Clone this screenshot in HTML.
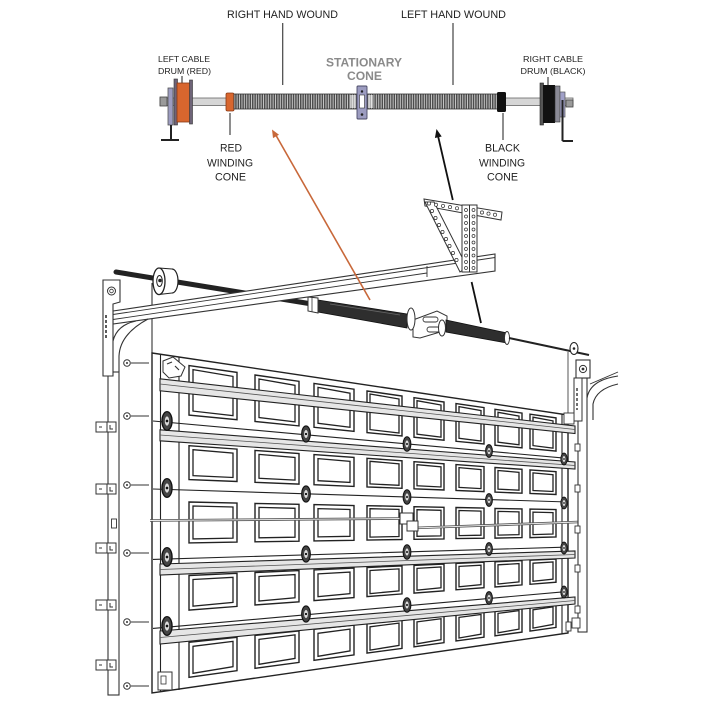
<!DOCTYPE html>
<html><head><meta charset="utf-8"><style>
html,body{margin:0;padding:0;background:#fff;}
svg{display:block;}
text{font-family:"Liberation Sans",Arial,sans-serif;}
</style></head><body>
<svg width="720" height="720" viewBox="0 0 720 720" xmlns="http://www.w3.org/2000/svg">
<defs>
<pattern id="coil" width="2.4" height="30" patternUnits="userSpaceOnUse"><rect width="2.4" height="30" fill="#4c4c4c"/><rect x="1.5" width="0.9" height="30" fill="#cfcfcf"/></pattern>
<g id="hinge"><ellipse rx="4.6" ry="8.5" fill="#444" stroke="#111" stroke-width="1.2"/><ellipse rx="2" ry="4.2" fill="#dcdcdc"/><circle r="1.2" fill="#111"/></g>
</defs>
<rect width="720" height="720" fill="#fff"/>

<g fill="#222" font-size="11">
<text x="282.5" y="18" text-anchor="middle" textLength="111" lengthAdjust="spacingAndGlyphs">RIGHT HAND WOUND</text>
<text x="453.5" y="18" text-anchor="middle" textLength="105" lengthAdjust="spacingAndGlyphs">LEFT HAND WOUND</text>
<text x="184" y="62" font-size="8.6" text-anchor="middle" textLength="52" lengthAdjust="spacingAndGlyphs">LEFT CABLE</text>
<text x="184.5" y="74" font-size="8.6" text-anchor="middle" textLength="53" lengthAdjust="spacingAndGlyphs">DRUM (RED)</text>
<text x="553" y="62" font-size="8.6" text-anchor="middle" textLength="60" lengthAdjust="spacingAndGlyphs">RIGHT CABLE</text>
<text x="553" y="74" font-size="8.6" text-anchor="middle" textLength="65" lengthAdjust="spacingAndGlyphs">DRUM (BLACK)</text>
<text x="364" y="66.5" font-size="11.5" font-weight="bold" fill="#8a8a8a" text-anchor="middle" textLength="76" lengthAdjust="spacingAndGlyphs">STATIONARY</text>
<text x="364.5" y="80" font-size="11.5" font-weight="bold" fill="#8a8a8a" text-anchor="middle" textLength="35" lengthAdjust="spacingAndGlyphs">CONE</text>
<text x="231" y="151.5" text-anchor="middle" textLength="22" lengthAdjust="spacingAndGlyphs">RED</text>
<text x="230" y="166.5" text-anchor="middle" textLength="46" lengthAdjust="spacingAndGlyphs">WINDING</text>
<text x="230.5" y="180.5" text-anchor="middle" textLength="31" lengthAdjust="spacingAndGlyphs">CONE</text>
<text x="502.5" y="151.5" text-anchor="middle" textLength="35" lengthAdjust="spacingAndGlyphs">BLACK</text>
<text x="502" y="166.5" text-anchor="middle" textLength="46" lengthAdjust="spacingAndGlyphs">WINDING</text>
<text x="502.5" y="180.5" text-anchor="middle" textLength="31" lengthAdjust="spacingAndGlyphs">CONE</text>
</g>
<g stroke="#444" stroke-width="1.2">
<line x1="282.7" y1="23" x2="282.7" y2="85"/>
<line x1="453" y1="23" x2="453" y2="85"/>
<line x1="230" y1="113" x2="230" y2="135"/>
<line x1="503" y1="113" x2="503" y2="140"/>
<line x1="182" y1="76" x2="182" y2="92"/>
<line x1="548" y1="77" x2="548" y2="86"/>
</g>
<rect x="160" y="98" width="413" height="7.5" fill="#d6d6d6" stroke="#666" stroke-width="0.8"/>
<rect x="160" y="97" width="7" height="9" fill="#9a9a9a" stroke="#444" stroke-width="0.8"/>
<rect x="168" y="88" width="5" height="37" fill="#9c9cc0" stroke="#555" stroke-width="0.8"/>
<rect x="174" y="79" width="3.5" height="46" fill="#6e6478" stroke="#333" stroke-width="0.6"/>
<rect x="177" y="83" width="13" height="39" fill="#d8662e" stroke="#8a3a16" stroke-width="0.8"/>
<rect x="189.5" y="80" width="3" height="44" fill="#6e6478" stroke="#333" stroke-width="0.6"/>
<path d="M171 125 V140 M161 140 H179" stroke="#222" stroke-width="2" fill="none"/>
<rect x="226" y="93" width="8" height="18" rx="1.5" fill="#d8662e" stroke="#8a3a16" stroke-width="0.8"/>
<rect x="234" y="94" width="266" height="15" fill="url(#coil)" stroke="#333" stroke-width="0.8"/>
<rect x="350" y="95" width="6" height="13" fill="#fff" opacity="0.55"/>
<rect x="368" y="95" width="5" height="13" fill="#fff" opacity="0.55"/>
<rect x="357" y="86" width="10" height="33" rx="1" fill="#9c9cc0" stroke="#4a4a66" stroke-width="0.9"/>
<rect x="359.5" y="95" width="5" height="13" fill="#fff" stroke="#333" stroke-width="0.6"/>
<circle cx="362" cy="91.5" r="1.2" fill="#222"/>
<circle cx="362" cy="114.5" r="1.3" fill="#222"/>
<rect x="497" y="92" width="9" height="20" rx="1.5" fill="#111"/>
<rect x="540" y="83" width="3.5" height="42" fill="#555" stroke="#222" stroke-width="0.6"/>
<rect x="543" y="85" width="12" height="38" fill="#111"/>
<rect x="555" y="86" width="5" height="36" fill="#8a8a96" stroke="#333" stroke-width="0.6"/>
<rect x="560" y="92" width="5" height="25" fill="#a0a0c8" stroke="#555" stroke-width="0.7"/>
<rect x="566" y="100" width="7" height="7" fill="#9a9a9a" stroke="#444" stroke-width="0.8"/>
<path d="M562.5 100 V141 M562.5 141 H573" stroke="#222" stroke-width="2" fill="none"/>

<line x1="152" y1="283" x2="152" y2="353" stroke="#333" stroke-width="1.1"/>
<rect x="108" y="372" width="11" height="323" fill="#fff" stroke="#333" stroke-width="1.1"/>
<rect x="111.5" y="519" width="5" height="9" fill="#fff" stroke="#333" stroke-width="0.9"/>
<g fill="#fff" stroke="#333" stroke-width="1">
<rect x="96" y="422" width="20" height="10"/><rect x="96" y="484" width="20" height="10"/><rect x="96" y="543" width="20" height="10"/><rect x="96" y="600" width="20" height="10"/><rect x="96" y="660" width="20" height="10"/>
</g>
<path d="M107 422v10M99 427h3M110 425v4h3M107 484v10M99 489h3M110 487v4h3M107 543v10M99 548h3M110 546v4h3M107 600v10M99 605h3M110 603v4h3M107 660v10M99 665h3M110 663v4h3" stroke="#333" stroke-width="1" fill="none"/>
<g stroke="#333" stroke-width="1" fill="#fff">
<path d="M131 363H149M131 416H149M131 485H149M131 553H149M131 622H149M131 686H149"/>
<circle cx="127" cy="363" r="3.3"/><circle cx="127" cy="416" r="3.3"/><circle cx="127" cy="485" r="3.3"/><circle cx="127" cy="553" r="3.3"/><circle cx="127" cy="622" r="3.3"/><circle cx="127" cy="686" r="3.3"/>
</g>
<g fill="#333"><circle cx="127" cy="363" r="1"/><circle cx="127" cy="416" r="1"/><circle cx="127" cy="485" r="1"/><circle cx="127" cy="553" r="1"/><circle cx="127" cy="622" r="1"/><circle cx="127" cy="686" r="1"/></g>

<line x1="116" y1="272" x2="318" y2="305" stroke="#222" stroke-width="5" stroke-linecap="round"/>
<ellipse cx="172" cy="281" rx="6" ry="12" fill="#fff" stroke="#222" stroke-width="1.2"/>
<rect x="159" y="268" width="13" height="26" fill="#fff"/>
<path d="M159 268 L172 269 M159 294.5 L172 293" stroke="#222" stroke-width="1.1"/>
<ellipse cx="159" cy="281.3" rx="6" ry="13.3" fill="#fff" stroke="#222" stroke-width="1.3"/>
<ellipse cx="159.5" cy="281" rx="2.8" ry="5.5" fill="#fff" stroke="#222" stroke-width="1"/>
<circle cx="160" cy="280.5" r="1.8" fill="#222"/>

<polygon points="113,311 495,254 495,271 113,324" fill="#fff" stroke="#333" stroke-width="1.1"/>
<path d="M113 314.5 L495 257.5 M113 319.5 L427 273 M427 266 V277" stroke="#333" stroke-width="0.9" fill="none"/>
<path d="M112 376 L112 350 Q112 326 136 321" fill="none" stroke="#333" stroke-width="1.1"/>
<path d="M119 372 L119 356 Q120 334 148 319" fill="none" stroke="#333" stroke-width="1.1"/>
<polygon points="103,280 120,280 120,302 113,304 113,376 103,376" fill="#fff" stroke="#333" stroke-width="1.1"/>
<circle cx="111.5" cy="291" r="4" fill="#fff" stroke="#333" stroke-width="1"/>
<circle cx="111.5" cy="291" r="1.8" fill="#fff" stroke="#333" stroke-width="0.8"/>
<path d="M106 315 V338" stroke="#333" stroke-width="1.6" stroke-dasharray="3,2"/>

<polygon points="318,300 407,314 407,328 318,312" fill="#2e2e2e" stroke="#111" stroke-width="0.8"/>
<path d="M330 304 L400 315" stroke="#666" stroke-width="0.8"/>
<polygon points="308,297 318,298 318,313 308,311" fill="#fff" stroke="#333" stroke-width="1"/>
<path d="M312 297.5 V312" stroke="#333" stroke-width="0.8"/>
<polygon points="413,320 437,311 447,316 447,330 420,338 413,337" fill="#fff" stroke="#333" stroke-width="1"/>
<rect x="423" y="317" width="15" height="5" rx="2.5" fill="#fff" stroke="#333" stroke-width="0.9"/>
<rect x="427" y="327" width="13" height="5" rx="2.5" fill="#fff" stroke="#333" stroke-width="0.9"/>
<ellipse cx="411" cy="319" rx="4" ry="11" fill="#fff" stroke="#333" stroke-width="1"/>
<polygon points="446,320 507,333 507,343 446,332" fill="#2e2e2e" stroke="#111" stroke-width="0.8"/>
<ellipse cx="442" cy="328" rx="3.5" ry="8" fill="#fff" stroke="#333" stroke-width="1"/>
<ellipse cx="507" cy="338" rx="2.5" ry="6.5" fill="#fff" stroke="#333" stroke-width="0.9"/>
<line x1="509" y1="338" x2="589" y2="355" stroke="#222" stroke-width="2"/>
<ellipse cx="574" cy="348.5" rx="4" ry="6" fill="#fff" stroke="#222" stroke-width="1.1"/>
<circle cx="574" cy="348.5" r="1.3" fill="#222"/>

<line x1="452.8" y1="200" x2="437.8" y2="135" stroke="#111" stroke-width="1.8"/>
<line x1="471.6" y1="282" x2="481" y2="323" stroke="#111" stroke-width="1.8"/>
<polygon points="436.5,129 441.7,136.5 434.9,138" fill="#111"/>

<g fill="#fff" stroke="#333" stroke-width="1">
<polygon points="424,199 502,212 501,220 425,206"/>
<polygon points="425,202 434,202 467,267 460,272"/>
<rect x="462" y="205" width="15" height="67"/>
<line x1="469.5" y1="205" x2="469.5" y2="272"/>
</g>
<g fill="#fff" stroke="#333" stroke-width="0.7">
<circle cx="429" cy="203.5" r="1.6"/><circle cx="436" cy="204.7" r="1.6"/><circle cx="443" cy="205.9" r="1.6"/><circle cx="450" cy="207.1" r="1.6"/><circle cx="457" cy="208.3" r="1.6"/><circle cx="482" cy="212.5" r="1.6"/><circle cx="488.5" cy="213.6" r="1.6"/><circle cx="495" cy="214.7" r="1.6"/>
<circle cx="432" cy="211" r="1.6"/><circle cx="435.5" cy="218" r="1.6"/><circle cx="439" cy="225" r="1.6"/><circle cx="442.5" cy="232" r="1.6"/><circle cx="446" cy="239" r="1.6"/><circle cx="449.5" cy="246" r="1.6"/><circle cx="453" cy="253" r="1.6"/><circle cx="456.5" cy="260" r="1.6"/>
<circle cx="466" cy="210" r="1.5"/><circle cx="466" cy="216.5" r="1.5"/><circle cx="466" cy="223" r="1.5"/><circle cx="466" cy="229.5" r="1.5"/><circle cx="466" cy="236" r="1.5"/><circle cx="466" cy="242.5" r="1.5"/><circle cx="466" cy="249" r="1.5"/><circle cx="466" cy="255.5" r="1.5"/><circle cx="466" cy="262" r="1.5"/><circle cx="466" cy="268" r="1.5"/>
<circle cx="473.5" cy="210" r="1.5"/><circle cx="473.5" cy="216.5" r="1.5"/><circle cx="473.5" cy="223" r="1.5"/><circle cx="473.5" cy="229.5" r="1.5"/><circle cx="473.5" cy="236" r="1.5"/><circle cx="473.5" cy="242.5" r="1.5"/><circle cx="473.5" cy="249" r="1.5"/><circle cx="473.5" cy="255.5" r="1.5"/><circle cx="473.5" cy="262" r="1.5"/><circle cx="473.5" cy="268" r="1.5"/>
</g>

<polygon points="152,353 568,415 568,633 152,693" fill="#fff" stroke="#222" stroke-width="1.4"/>
<g stroke="#222" stroke-width="1.1" fill="none">
<line x1="160.5" y1="354.5" x2="160.5" y2="692"/>
<line x1="179" y1="357" x2="179" y2="690"/>
<line x1="562" y1="414" x2="562" y2="634"/>
<line x1="153" y1="421" x2="568" y2="458.4"/>
<line x1="153" y1="489" x2="568" y2="502"/>
<line x1="153" y1="559.4" x2="568" y2="547.1"/>
<line x1="153" y1="628.4" x2="568" y2="591.4"/>
</g>
<g fill="#fff" stroke="#222" stroke-width="1.4">
<polygon points="189,365.6 237,372.4 237,419.7 189,415.1"/>
<polygon points="189,445.7 237,449.1 237,481.5 189,479.6"/>
<polygon points="189,502 237,503 237,542.1 189,542.9"/>
<polygon points="189,575.5 237,573.3 237,606.4 189,610.1"/>
<polygon points="189,642.3 237,637.3 237,670.7 189,677.3"/>
<polygon points="255,375 299,381.3 299,425.9 255,421.5"/>
<polygon points="255,450.4 299,453.5 299,484.1 255,482.3"/>
<polygon points="255,503.4 299,504.3 299,541.2 255,541.8"/>
<polygon points="255,572.5 299,570.6 299,601.8 255,605"/>
<polygon points="255,635.4 299,630.9 299,662.4 255,668.3"/>
<polygon points="314,383.4 354,389.2 354,431.3 314,427.3"/>
<polygon points="314,454.6 354,457.4 354,486.4 314,484.7"/>
<polygon points="314,504.6 354,505.5 354,540.3 314,540.9"/>
<polygon points="314,569.9 354,568.1 354,597.6 314,600.6"/>
<polygon points="314,629.3 354,625.1 354,654.9 314,660.3"/>
<polygon points="367,391 402,396 402,436 367,432.6"/>
<polygon points="367,458.3 402,460.8 402,488.3 367,486.9"/>
<polygon points="367,505.7 402,506.4 402,539.5 367,540.1"/>
<polygon points="367,567.5 402,565.9 402,593.9 367,596.6"/>
<polygon points="367,623.8 402,620.1 402,648.4 367,653.1"/>
<polygon points="414,397.7 444,402 444,440.2 414,437.2"/>
<polygon points="414,461.7 444,463.8 444,490 414,488.8"/>
<polygon points="414,506.7 444,507.3 444,538.9 414,539.3"/>
<polygon points="414,565.4 444,564 444,590.8 414,593.1"/>
<polygon points="414,618.9 444,615.7 444,642.7 414,646.8"/>
<polygon points="456,403.6 484,407.6 484,444 456,441.3"/>
<polygon points="456,464.6 484,466.6 484,491.6 456,490.4"/>
<polygon points="456,507.5 484,508.1 484,538.2 456,538.6"/>
<polygon points="456,563.4 484,562.2 484,587.7 456,589.8"/>
<polygon points="456,614.4 484,611.5 484,637.2 456,641"/>
<polygon points="495,409.3 522,413.1 522,447.8 495,445.2"/>
<polygon points="495,467.5 522,469.3 522,493.2 495,492.1"/>
<polygon points="495,508.4 522,508.9 522,537.6 495,538.1"/>
<polygon points="495,561.8 522,560.6 522,584.9 495,587"/>
<polygon points="495,610.4 522,607.6 522,632.1 495,635.8"/>
<polygon points="530,414.2 556,417.9 556,451.1 530,448.6"/>
<polygon points="530,469.9 556,471.7 556,494.5 530,493.5"/>
<polygon points="530,509.1 556,509.6 556,537 530,537.6"/>
<polygon points="530,560.2 556,559 556,582.2 530,584.3"/>
<polygon points="530,606.8 556,603.9 556,627.4 530,631.1"/>
</g>
<g fill="none" stroke="#222" stroke-width="1.3">
<polygon points="193,369.6 233,376.4 233,415.7 193,411.1"/>
<polygon points="193,449.7 233,453.1 233,477.5 193,475.6"/>
<polygon points="193,506 233,507 233,538.1 193,538.9"/>
<polygon points="193,579.5 233,577.3 233,602.4 193,606.1"/>
<polygon points="193,646.3 233,641.3 233,666.7 193,673.3"/>
<polygon points="259,379 295,385.3 295,421.9 259,417.5"/>
<polygon points="259,454.4 295,457.5 295,480.1 259,478.3"/>
<polygon points="259,507.4 295,508.3 295,537.2 259,537.8"/>
<polygon points="259,576.5 295,574.6 295,597.8 259,601"/>
<polygon points="259,639.4 295,634.9 295,658.4 259,664.3"/>
<polygon points="318,387.4 350,393.2 350,427.3 318,423.3"/>
<polygon points="318,458.6 350,461.4 350,482.4 318,480.7"/>
<polygon points="318,508.6 350,509.5 350,536.3 318,536.9"/>
<polygon points="318,573.9 350,572.1 350,593.6 318,596.6"/>
<polygon points="318,633.3 350,629.1 350,650.9 318,656.3"/>
<polygon points="370,394 399,399 399,433 370,429.6"/>
<polygon points="370,461.3 399,463.8 399,485.3 370,483.9"/>
<polygon points="370,508.7 399,509.4 399,536.5 370,537.1"/>
<polygon points="370,570.5 399,568.9 399,590.9 370,593.6"/>
<polygon points="370,626.8 399,623.1 399,645.4 370,650.1"/>
<polygon points="417,400.7 441,405 441,437.2 417,434.2"/>
<polygon points="417,464.7 441,466.8 441,487 417,485.8"/>
<polygon points="417,509.7 441,510.3 441,535.9 417,536.3"/>
<polygon points="417,568.4 441,567 441,587.8 417,590.1"/>
<polygon points="417,621.9 441,618.7 441,639.7 417,643.8"/>
<polygon points="459,406.6 481,410.6 481,441 459,438.3"/>
<polygon points="459,467.6 481,469.6 481,488.6 459,487.4"/>
<polygon points="459,510.5 481,511.1 481,535.2 459,535.6"/>
<polygon points="459,566.4 481,565.2 481,584.7 459,586.8"/>
<polygon points="459,617.4 481,614.5 481,634.2 459,638"/>
<polygon points="498,412.3 519,416.1 519,444.8 498,442.2"/>
<polygon points="498,470.5 519,472.3 519,490.2 498,489.1"/>
<polygon points="498,511.4 519,511.9 519,534.6 498,535.1"/>
<polygon points="498,564.8 519,563.6 519,581.9 498,584"/>
<polygon points="498,613.4 519,610.6 519,629.1 498,632.8"/>
<polygon points="533,417.2 553,420.9 553,448.1 533,445.6"/>
<polygon points="533,472.9 553,474.7 553,491.5 533,490.5"/>
<polygon points="533,512.1 553,512.6 553,534 533,534.6"/>
<polygon points="533,563.2 553,562 553,579.2 533,581.3"/>
<polygon points="533,609.8 553,606.9 553,624.4 533,628.1"/>
</g>
<g fill="#e6e6e6" stroke="#222" stroke-width="1.1">
<polygon points="160,378.8 575,426 575,433.5 160,390.8"/>
<polygon points="160,429.8 575,462 575,469 160,440.8"/>
<polygon points="160,564 575,551 575,558 160,575"/>
<polygon points="160,631 575,597 575,604 160,644"/>
</g>
<g stroke="#555" stroke-width="0.8">
<line x1="160" y1="384" x2="575" y2="429.5"/>
<line x1="160" y1="435" x2="575" y2="465.5"/>
<line x1="160" y1="569.5" x2="575" y2="554.5"/>
<line x1="160" y1="637.5" x2="575" y2="600.5"/>
</g>
<g stroke="#555" stroke-width="2.6" fill="none"><line x1="150" y1="520.5" x2="402" y2="518.5"/><line x1="414" y1="528" x2="578" y2="522"/></g>
<g stroke="#eee" stroke-width="0.9" fill="none"><line x1="150" y1="520.5" x2="402" y2="518.5"/><line x1="414" y1="528" x2="578" y2="522"/></g>
<rect x="400" y="513" width="13" height="11" fill="#fff" stroke="#333" stroke-width="1"/>
<rect x="407" y="521" width="11" height="10" fill="#fff" stroke="#333" stroke-width="1"/>
<polygon points="163,361 173,357 185,367 181,376 169,378 163,372" fill="#fff" stroke="#333" stroke-width="1"/>
<path d="M167 364 L172 362 M175 366 L179 370" stroke="#333" stroke-width="1.2"/>
<rect x="158" y="672" width="14" height="18" fill="#fff" stroke="#333" stroke-width="1"/>
<rect x="161" y="676" width="5" height="8" fill="none" stroke="#333" stroke-width="0.8"/>
<use href="#hinge" transform="translate(167,421) scale(1.1)"/>
<use href="#hinge" transform="translate(167,488) scale(1.1)"/>
<use href="#hinge" transform="translate(167,557) scale(1.1)"/>
<use href="#hinge" transform="translate(167,626) scale(1.1)"/>
<use href="#hinge" transform="translate(306,434) scale(0.95)"/>
<use href="#hinge" transform="translate(306,494) scale(0.95)"/>
<use href="#hinge" transform="translate(306,554) scale(0.95)"/>
<use href="#hinge" transform="translate(306,614) scale(0.95)"/>
<use href="#hinge" transform="translate(407,444) scale(0.85)"/>
<use href="#hinge" transform="translate(407,497) scale(0.85)"/>
<use href="#hinge" transform="translate(407,552) scale(0.85)"/>
<use href="#hinge" transform="translate(407,605) scale(0.85)"/>
<use href="#hinge" transform="translate(489,451) scale(0.75)"/>
<use href="#hinge" transform="translate(489,500) scale(0.75)"/>
<use href="#hinge" transform="translate(489,549) scale(0.75)"/>
<use href="#hinge" transform="translate(489,598) scale(0.75)"/>
<use href="#hinge" transform="translate(564,459) scale(0.7)"/>
<use href="#hinge" transform="translate(564,503) scale(0.7)"/>
<use href="#hinge" transform="translate(564,548) scale(0.7)"/>
<use href="#hinge" transform="translate(564,592) scale(0.7)"/>

<line x1="568" y1="352" x2="568" y2="413" stroke="#444" stroke-width="0.9"/>
<rect x="578" y="378" width="9" height="254" fill="#fff" stroke="#333" stroke-width="1.1"/>
<rect x="576" y="360" width="14" height="18" fill="#fff" stroke="#333" stroke-width="1.1"/>
<circle cx="583" cy="369" r="3.6" fill="#fff" stroke="#333" stroke-width="1"/>
<circle cx="583" cy="369" r="1.4" fill="#333"/>
<rect x="574" y="378" width="8" height="43" fill="#fff" stroke="#333" stroke-width="1"/>
<path d="M577 388 V410" stroke="#333" stroke-width="1.4" stroke-dasharray="3,2"/>
<path d="M587 398 Q590 380 618 376" fill="none" stroke="#333" stroke-width="1.1"/>
<path d="M593 420 L593 404 Q596 389 618 384" fill="none" stroke="#333" stroke-width="1.1"/>
<path d="M590 384 L618 372" fill="none" stroke="#333" stroke-width="0.9"/>
<g fill="#fff" stroke="#333" stroke-width="0.9">
<rect x="575" y="444" width="5" height="7"/><rect x="575" y="485" width="5" height="7"/><rect x="575" y="526" width="5" height="7"/><rect x="575" y="565" width="5" height="7"/><rect x="575" y="606" width="5" height="7"/>
<rect x="572" y="618" width="8" height="10"/>
<rect x="564" y="413" width="10" height="11"/>
<rect x="566" y="622" width="5" height="9"/>
</g>

<line x1="370" y1="300" x2="275.5" y2="134.5" stroke="#c8683a" stroke-width="1.6"/>
<polygon points="272,129.5 279,134.7 273,138.1" fill="#c8683a"/>
</svg>
</body></html>
